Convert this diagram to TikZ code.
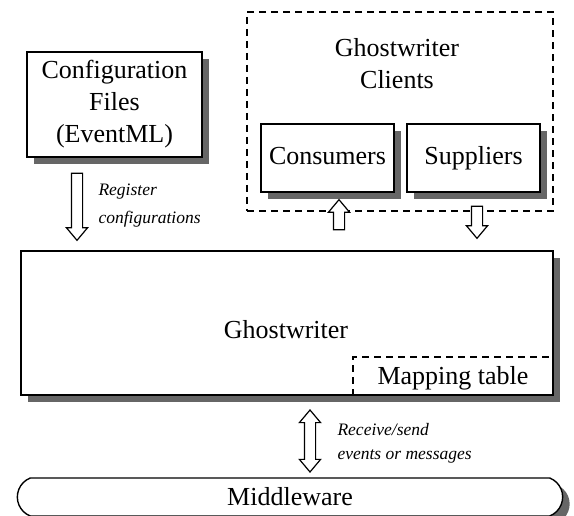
\documentclass[tikz,border=0pt]{standalone}
\usepackage{fontspec}
\setmainfont{Liberation Serif}
\usetikzlibrary{shapes.arrows,shapes.misc,shadows}

\begin{document}
\begin{tikzpicture}[x=1pt, y=-1pt, % 1 unité = 1 pt, y vers le bas
  grand/.style={font=\fontsize{26}{32}\selectfont},
  petit/.style={font=\fontsize{17.5}{24}\selectfont\itshape, align=left},
  ombre/.style={drop shadow={shadow xshift=7pt, shadow yshift=-7pt, fill=black!60, opacity=1}},
  boite/.style={draw, line width=1.4pt, fill=white, ombre, inner sep=0pt},
  tirets/.style={line width=1.3pt, dash pattern=on 7pt off 5pt},
  fleche/.style={draw, line width=1.2pt, fill=white, inner sep=5pt, single arrow,
    single arrow head extend=5pt, single arrow tip angle=80},
  flechedouble/.style={draw, line width=1.2pt, fill=white, inner sep=5pt, double arrow,
    double arrow head extend=5pt, double arrow tip angle=80, shape border rotate=90}
]
  \useasboundingbox (0,0) rectangle (574,516);

  % Fichiers de configuration
  \node[boite, grand, align=center, minimum width=175pt, minimum height=105pt] (config)
    at (114.5,104.5) {Configuration\\Files\\(EventML)};

  % Clients
  \node[draw, tirets, minimum width=306pt, minimum height=199pt] (clients) at (400,111.5) {};
  \node[grand, align=center] (titre) at (397,64) {Ghostwriter\\Clients};
  \foreach \nom/\x/\txt in {cons/327.5/Consumers, supp/473.5/Suppliers}
    \node[boite, grand, text height=18pt, text depth=4pt, minimum width=133pt,
      minimum height=68pt] (\nom) at (\x,158) {\txt};

  % Ghostwriter et table
  \node[boite, minimum width=532pt, minimum height=144pt] (gw) at (287,323) {};
  \node[grand] (gwtxt) at (286,330) {Ghostwriter};
  \coordinate (mapcoin) at (353,357);
  \draw[tirets] (mapcoin |- gw.south) -- (mapcoin) -- (mapcoin -| gw.east);
  \node[grand] (map) at (453,378) {Mapping table};

  % Middleware
  \node[draw, line width=1.4pt, fill=white, ombre, grand, rounded rectangle,
    rounded rectangle arc length=137, minimum width=552pt, minimum height=38pt] (mw)
    at (290,497) {Middleware};

  % Flèches
  \node[fleche, shape border rotate=270, minimum height=67pt] (reg) at (77,203.5) {};
  \node[petit, font=\fontsize{17.5}{28}\selectfont\itshape, anchor=west] (regtxt)
    at (95,206) {Register\\configurations};
  \node[fleche, shape border rotate=90, minimum height=30pt] (vcons) at (339,218) {};
  \node[fleche, shape border rotate=270, minimum height=32pt] (vgw) at (477,219) {};
  \node[flechedouble, minimum height=62pt] (mwarr) at (310,441) {};
  \node[petit, anchor=west] (mwtxt) at (334,443) {Receive/send\\events or messages};
\end{tikzpicture}
\end{document}
